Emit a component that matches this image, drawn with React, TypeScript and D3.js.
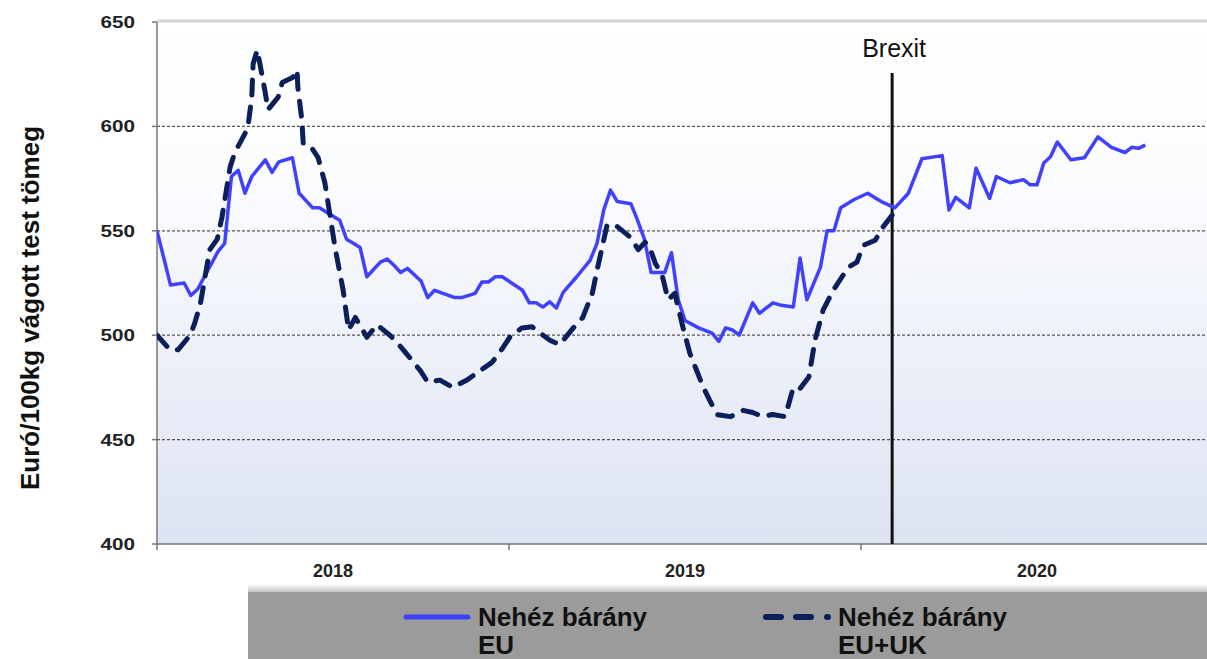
import React from "react";
import * as d3 from "d3";

// Week index counted from the first week of 2018 (52 weeks per year)
const euWeeks = [0, 2, 4, 5, 6, 9, 10, 11, 12, 13, 14, 16, 17, 18, 20, 21, 23, 24, 26, 27, 28, 29, 30, 31, 33, 34, 35, 36, 37, 39, 40, 41, 44, 45, 47, 48, 49, 50, 51, 54, 55, 56, 57, 58, 59, 60, 62, 64, 65, 66, 67, 68, 70, 71, 72, 73, 75, 76, 77, 78, 80, 82, 83, 84, 85, 86, 88, 89, 91, 92, 94, 95, 96, 98, 99, 100, 101, 103, 105, 106, 107, 109, 111, 113, 116, 117, 118, 120, 121, 123, 124, 126, 128, 129, 130, 131, 132, 133, 135, 137, 139, 141, 143, 144, 145, 146];
const euValues = [550, 524, 525, 519, 522, 540, 544, 576, 579, 568, 576, 584, 578, 583, 585, 568, 561, 561, 557, 555, 546, 544, 542, 528, 535, 536.5, 533.5, 530, 532, 526, 518, 521.5, 518, 518, 520, 525.5, 525.5, 528, 528, 521.5, 515.5, 515.5, 513.5, 516, 513, 520.5, 528, 536, 544, 560, 569.5, 564, 563, 555, 546, 530, 530, 539.5, 517, 507, 503.5, 501, 497, 503.5, 502.5, 500, 515.5, 510.5, 515.5, 514.5, 513.5, 537, 517, 532.5, 550, 550, 561, 565, 568, 566, 564, 561, 568, 584.5, 586, 560, 566, 561, 580, 565.5, 576, 573, 574.5, 572, 572, 582.5, 585.5, 592.5, 584, 585, 595, 590, 587.5, 590, 589.5, 591];

const ukWeeks = [0, 1.9, 3.1, 4.9, 5.6, 6.4, 7.8, 8.9, 9.6, 10.8, 11.5, 13.4, 14, 14.2, 14.8, 15.2, 16, 16.4, 17.9, 18.5, 20.1, 20.7, 20.8, 21.4, 21.6, 22.6, 23.8, 24.8, 25.6, 26.3, 27.5, 28.3, 29.3, 31, 32.5, 34.4, 35.6, 37.4, 38.9, 40, 41.8, 43.7, 45.8, 47.7, 49.5, 51.1, 52.1, 53.9, 55.4, 56.6, 58.1, 59.5, 61.5, 62.9, 64.3, 65.1, 66.5, 68, 69.9, 71.1, 72.1, 72.8, 73.6, 74.6, 75.5, 76.5, 77.6, 78.7, 80.7, 82.7, 84.7, 86.6, 88, 89.5, 90.9, 92.8, 94, 95, 96.3, 97.2, 98.4, 99.9, 101.2, 102.1, 103.4, 104.3, 106.1, 107.3, 108.6];
const ukValues = [500, 493, 493, 500, 506, 515, 541, 546, 556.5, 580.5, 587.5, 599, 614, 630, 636.5, 630, 616, 608, 614, 621, 623.5, 627, 619, 603, 592, 591, 585, 573, 556.5, 542, 521.5, 502.5, 508.5, 499, 505, 500, 496, 489, 483, 477.5, 478.5, 475, 478.5, 483, 487, 494, 499, 503.5, 504, 501, 497.5, 495.5, 503.5, 508.5, 520, 532.5, 553, 552, 547, 541, 544.5, 542, 534.5, 529, 517, 520, 505, 491.5, 475, 462, 461, 464, 463, 461, 462, 461, 475, 474.5, 480, 497.5, 512, 521.5, 528, 532.5, 535, 543, 545.5, 552, 557.5];

const yTicks = [400, 450, 500, 550, 600, 650];
const gridValues = [450, 500, 550, 600];
const yearTicks = [0, 52, 104];
const yearLabels = ["2018", "2019", "2020"];
const brexitWeek = 108.6;

const seriesNames = ["Nehéz bárány", "EU", "EU+UK"];
const yTitle = "Euró/100kg vágott test tömeg";

const W = 1207;
const H = 659;
const L = 157;
const R = 1207;
const T = 22;
const B = 544;

export default function App() {
  const x = d3.scaleLinear().domain([0, 156]).range([L, 1213]);
  const y = d3.scaleLinear().domain([400, 650]).range([B, T]);

  const line = d3
    .line<[number, number]>()
    .x((d) => x(d[0]))
    .y((d) => y(d[1]))
    .curve(d3.curveLinear);

  const euPath = line(euWeeks.map((w, i) => [w, euValues[i]]) as [number, number][]) || "";
  const ukPath = line(ukWeeks.map((w, i) => [w, ukValues[i]]) as [number, number][]) || "";

  const font = "'Liberation Sans', Arial, Helvetica, sans-serif";

  return (
    <div style={{ position: "absolute", left: 0, top: 0 }}>
      <svg width={W} height={H} style={{ display: "block" }}>
        <defs>
          <linearGradient id="bg" x1="0" y1="0" x2="0" y2="1">
            <stop offset="0" stopColor="#ffffff" />
            <stop offset="0.3" stopColor="#fbfcfe" />
            <stop offset="1" stopColor="#dde3f2" />
          </linearGradient>
          <linearGradient id="shadow" x1="0" y1="0" x2="0" y2="1">
            <stop offset="0" stopColor="#ffffff" />
            <stop offset="1" stopColor="#c4c4c4" />
          </linearGradient>
          <clipPath id="plotclip">
            <rect x={L} y={T} width={R - L} height={B - T} />
          </clipPath>
        </defs>
        <rect x={0} y={0} width={W} height={H} fill="#ffffff" />
        <rect x={L} y={T} width={R - L} height={B - T} fill="url(#bg)" />
        {/* top border */}
        <line x1={L} x2={R} y1={T - 1} y2={T - 1} stroke="#d4d4d4" strokeWidth={3} />
        {/* grid lines */}
        {gridValues.map((v) => (
          <line
            key={v}
            x1={L}
            x2={R}
            y1={y(v)}
            y2={y(v)}
            stroke="#555"
            strokeWidth={1.2}
            strokeDasharray="3,2"
          />
        ))}
        {/* y axis */}
        <line x1={L} x2={L} y1={T} y2={B} stroke="#777" strokeWidth={1.5} />
        {yTicks.map((v) => (
          <g key={v}>
            <line x1={L - 5} x2={L} y1={y(v)} y2={y(v)} stroke="#777" strokeWidth={1.5} />
            <text
              transform={`translate(${L - 22},${y(v) + 6}) scale(1.25,1)`}
              textAnchor="end"
              fontFamily={font}
              fontWeight="bold"
              fontSize={16.5}
              fill="#222"
            >
              {v}
            </text>
          </g>
        ))}
        <text
          transform={`translate(39,308) rotate(-90)`}
          textAnchor="middle"
          fontFamily={font}
          fontWeight="bold"
          fontSize={26}
          fill="#111"
        >
          {yTitle}
        </text>
        {/* x axis */}
        <line x1={L} x2={R} y1={B} y2={B} stroke="#777" strokeWidth={1.5} />
        {yearTicks.map((w, i) => (
          <g key={w}>
            <line x1={x(w)} x2={x(w)} y1={B} y2={B + 6} stroke="#777" strokeWidth={1.5} />
            <text
              x={x(w + 26)}
              y={577}
              textAnchor="middle"
              fontFamily={font}
              fontWeight="bold"
              fontSize={18}
              fill="#222"
            >
              {yearLabels[i]}
            </text>
          </g>
        ))}
        {/* brexit */}
        <line x1={x(brexitWeek)} x2={x(brexitWeek)} y1={73} y2={B} stroke="#111" strokeWidth={3} />
        <text x={x(brexitWeek) - 30} y={57} fontFamily={font} fontSize={25} fill="#111">
          Brexit
        </text>
        {/* series */}
        <g clipPath="url(#plotclip)">
          <path d={euPath} fill="none" stroke="#4040ff" strokeWidth={3.5} strokeLinejoin="round" />
          <path
            d={ukPath}
            fill="none"
            stroke="#0b1f5a"
            strokeWidth={5}
            strokeDasharray="15,12"
            strokeLinecap="round"
            strokeLinejoin="round"
          />
        </g>
        {/* legend */}
        <rect x={248} y={584} width={R - 248} height={8} fill="url(#shadow)" />
        <rect x={248} y={592} width={R - 248} height={H - 592} fill="#9b9b9b" />
        <line x1={406} x2={468} y1={617} y2={617} stroke="#4040ff" strokeWidth={5} strokeLinecap="round" />
        <text x={478} y={626} fontFamily={font} fontWeight="bold" fontSize={26} fill="#111">
          {seriesNames[0]}
        </text>
        <text x={478} y={654} fontFamily={font} fontWeight="bold" fontSize={26} fill="#111">
          {seriesNames[1]}
        </text>
        <line x1={766} x2={781} y1={617} y2={617} stroke="#0b1f5a" strokeWidth={6} strokeLinecap="round" />
        <line x1={796} x2={811} y1={617} y2={617} stroke="#0b1f5a" strokeWidth={6} strokeLinecap="round" />
        <line x1={827} x2={828} y1={617} y2={617} stroke="#0b1f5a" strokeWidth={6} strokeLinecap="round" />
        <text x={838} y={626} fontFamily={font} fontWeight="bold" fontSize={26} fill="#111">
          {seriesNames[0]}
        </text>
        <text x={838} y={654} fontFamily={font} fontWeight="bold" fontSize={26} fill="#111">
          {seriesNames[2]}
        </text>
      </svg>
    </div>
  );
}
